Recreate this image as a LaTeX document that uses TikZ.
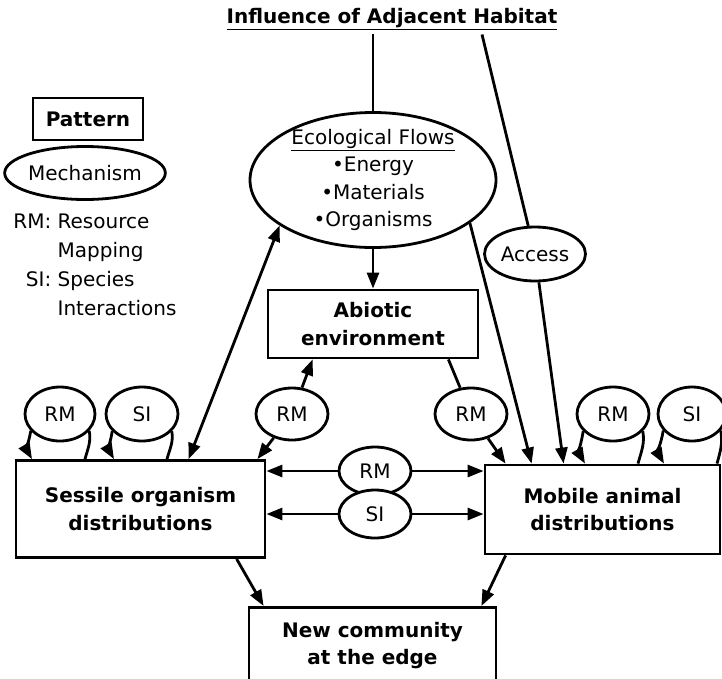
\documentclass[tikz,border=0pt]{standalone}
\usepackage{fontspec}
\setmainfont{DejaVu Sans}
\usetikzlibrary{shapes.geometric,arrows.meta,calc}

\newcommand{\diagfont}{\fontsize{20}{27.5}\selectfont}
\tikzset{
  patbox/.style={draw, rectangle, fill=white, align=center, inner sep=0pt, font=\diagfont\bfseries},
  mechell/.style={draw, ellipse, fill=white, inner sep=0pt, minimum width=72, minimum height=52},
}

\begin{document}
\begin{tikzpicture}[x=1pt, y=-1pt, line width=2.8pt, font=\diagfont,
    >={Triangle[length=16pt,width=12pt]}]
    \clip (0,0) rectangle (722,678);

    % legend
    \node[patbox, minimum width=110, minimum height=42] (pat) at (88,119) {Pattern};
    \node[mechell, minimum width=147, minimum height=53] (mechleg) at (85,173) {Mechanism};
    \node[anchor=north west, inner sep=0pt] (legtext) at (12,207)
        {\renewcommand{\arraystretch}{1.05}\begin{tabular}{@{}r@{ }l@{}}
         RM: & Resource\\ & Mapping\\ SI: & Species\\ & Interactions\end{tabular}};

    % top
    \node[font=\diagfont\bfseries] (title) at (392,19) {\underline{Influence of Adjacent Habitat}};
    \node[mechell, inner sep=-4pt, minimum width=246, minimum height=135, align=center] (flows) at (373,180)
        {\underline{Ecological Flows}\\\textbullet Energy\\\textbullet Materials\\\textbullet Organisms};
    \node[mechell, minimum width=101, minimum height=54] (access) at (535,254) {Access};
    \node[patbox, minimum width=210, minimum height=68] (abiotic) at (373,324) {Abiotic\\environment};
    \node[mechell] (rmA) at (292,414) {RM};
    \node[mechell] (rmB) at (471,414) {RM};

    % patterns
    \node[patbox, minimum width=249, minimum height=97] (sessile) at (140.5,509) {Sessile organism\\distributions};
    \node[patbox, minimum width=235, minimum height=89] (mobile) at (602.5,509.5) {Mobile animal\\distributions};
    \node[mechell, minimum height=48] (rmC) at (375,471) {RM};
    \node[mechell, minimum height=48] (siC) at (375,514) {SI};
    \node[patbox, minimum width=247, minimum height=76, anchor=north] (newcom) at (372.5,606) {New community\\at the edge};

    % self loops
    \node[mechell, minimum width=70, minimum height=54] (rmL) at (60,414) {RM};
    \node[mechell, minimum height=54] (siL) at (142,414) {SI};
    \node[mechell, minimum height=54] (rmR) at (613,414) {RM};
    \node[mechell, minimum width=68, minimum height=54] (siR) at (692,414) {SI};
    \foreach \m/\b in {rmL/sessile, siL/sessile, rmR/mobile, siR/mobile}{
        \draw ($(\b.north -| \m)+(25,0)$) to[out=75,in=-80] (\m.-30);
        \draw[->] (\m.-150) to[out=-100,in=120] ($(\b.north -| \m)+(-28,0)$);
    }

    \draw (title.south -| flows) -- (flows.north);
    \draw ($(title.south)+(90,0)$) -- (access);
    \draw[->] (flows.south) -- (abiotic.north);
    \draw[->] (flows.-24) -- ($(mobile.north west)+(48,0)$);
    \draw[->] (access) -- ($(mobile.north west)+(80,0)$);
    \draw[<->] (flows.-154) -- ($(sessile.north west)+(174,0)$);
    \draw[->] (rmA) -- ($(abiotic.south west)+(46,0)$);
    \draw[->] (rmA) -- ($(sessile.north east)+(-9,0)$);
    \draw ($(abiotic.south east)+(-31,0)$) -- (rmB);
    \draw[->] (rmB) -- ($(mobile.north west)+(22,0)$);
    \draw[->] (rmC) -- (rmC -| sessile.east);
    \draw[->] (rmC) -- (rmC -| mobile.west);
    \draw[->] (siC) -- (siC -| sessile.east);
    \draw[->] (siC) -- (siC -| mobile.west);
    \draw[->] ($(sessile.south west)+(222,0)$) -- ($(newcom.north west)+(16,0)$);
    \draw[->] ($(mobile.south west)+(22,0)$) -- ($(newcom.north east)+(-16,0)$);
\end{tikzpicture}
\end{document}
